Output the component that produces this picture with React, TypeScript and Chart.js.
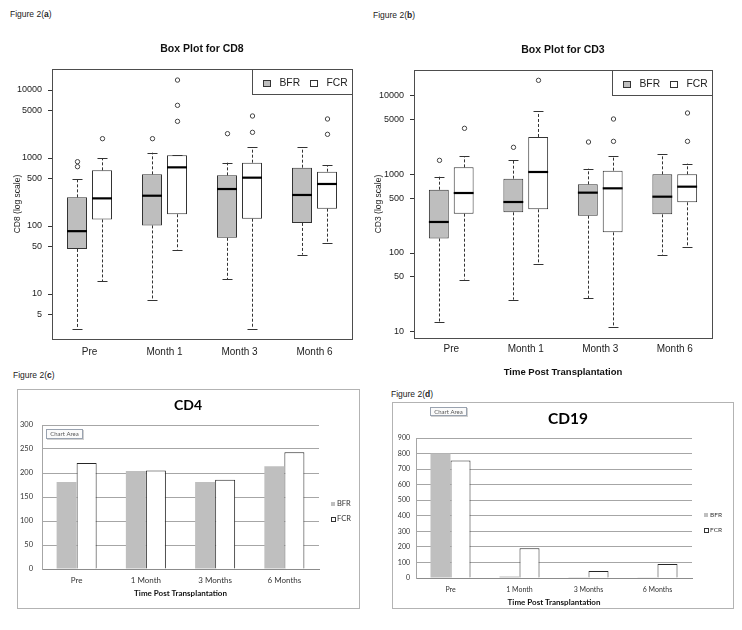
import React, { useEffect, useRef } from 'react';
import { Chart, registerables } from 'chart.js';

Chart.register(...registerables);

// ---------------- data ----------------
const boxGroups = ['Pre', 'Month 1', 'Month 3', 'Month 6'];
const barGroups = ['Pre', '1 Month', '3 Months', '6 Months'];
const seriesLabels = ['BFR', 'FCR'];
const logTicks = [5, 10, 50, 100, 500, 1000, 5000, 10000];

// five-number summaries: [lower whisker, Q1, median, Q3, upper whisker]
const cd8BFR = [[3.1, 46, 84, 264, 485], [8.3, 102, 279, 575, 1197], [16.6, 67, 350, 556, 854], [37.9, 111, 286, 721, 1435]];
const cd8FCR = [[15.4, 125, 255, 659, 989], [45, 149, 729, 1094, 1094], [3.1, 128, 514, 854, 1435], [55.6, 180, 415, 630, 780]];
const cd8BFROutliers = [[746, 883], [1925], [2280], []];
const cd8FCROutliers = [[1925], [3460, 5950, 14000], [2385, 4150], [2230, 3750]];

const cd3BFR = [[13.1, 153, 248, 638, 933], [25.5, 329, 445, 881, 1506], [26.5, 298, 585, 746, 1180], [95, 310, 520, 1000, 1795]];
const cd3FCR = [[46, 316, 579, 1227, 1710], [71.8, 359, 1071, 2985, 6320], [11.4, 183, 664, 1114, 1710], [118, 441, 697, 1000, 1367]];
const cd3BFROutliers = [[1506], [2205], [2576], []];
const cd3FCROutliers = [[3845], [15670], [2626, 5050], [2626, 6020]];

const cd4BFR = [181, 204, 181, 214];
const cd4FCR = [221, 205, 186, 243];
const cd19BFR = [800, 10, 5, 2];
const cd19FCR = [755, 192, 45, 90];

// ---------------- styling helpers ----------------
const ARIAL = '"Liberation Sans", Arial, Helvetica, sans-serif';
const CAL = 'Lato, "Liberation Sans", sans-serif';

const boxPlotPlugin = {
  id: 'boxWhiskers',
  afterDatasetsDraw(chart: any) {
    const ctx = chart.ctx;
    const y = chart.scales.y;
    chart.data.datasets.forEach((ds: any, i: number) => {
      const meta = chart.getDatasetMeta(i);
      meta.data.forEach((el: any, j: number) => {
        const s = ds.stats[j];
        const out = ds.outliers[j] || [];
        const x = Math.round(el.x) + 0.5;
        const half = el.width / 2;
        const p = s.map((v: number) => y.getPixelForValue(v));
        ctx.save();
        ctx.strokeStyle = '#333';
        ctx.lineWidth = 1;
        ctx.setLineDash([3, 2]);
        ctx.beginPath();
        ctx.moveTo(x, p[3]);
        ctx.lineTo(x, p[4]);
        ctx.moveTo(x, p[1]);
        ctx.lineTo(x, p[0]);
        ctx.stroke();
        ctx.setLineDash([]);
        const cap = el.width / 4;
        ctx.beginPath();
        ctx.moveTo(x - cap, Math.round(p[4]) + 0.5);
        ctx.lineTo(x + cap, Math.round(p[4]) + 0.5);
        ctx.moveTo(x - cap, Math.round(p[0]) + 0.5);
        ctx.lineTo(x + cap, Math.round(p[0]) + 0.5);
        ctx.stroke();
        ctx.strokeStyle = '#000';
        ctx.lineWidth = 2.2;
        ctx.beginPath();
        ctx.moveTo(el.x - half, p[2]);
        ctx.lineTo(el.x + half, p[2]);
        ctx.stroke();
        ctx.strokeStyle = '#444';
        ctx.lineWidth = 1;
        out.forEach((v: number) => {
          ctx.beginPath();
          ctx.arc(x, y.getPixelForValue(v), 2.2, 0, Math.PI * 2);
          ctx.stroke();
        });
        ctx.restore();
      });
    });
  },
};

function makeDecor(d: any) {
  return {
    id: 'decor',
    afterDraw(chart: any) {
      const ctx = chart.ctx;
      const a = chart.chartArea;
      ctx.save();
      ctx.lineWidth = 1;
      ctx.setLineDash([]);
      if (d.outerBorder) {
        ctx.strokeStyle = d.outerBorder;
        ctx.strokeRect(0.5, 0.5, chart.width - 1, chart.height - 1);
      }
      if (d.frame) {
        ctx.strokeStyle = d.frame;
        ctx.strokeRect(Math.round(a.left) + 0.5, Math.round(a.top) + 0.5, Math.round(a.right - a.left), Math.round(a.bottom - a.top));
      }
      if (d.title) {
        const t = d.title;
        ctx.fillStyle = t.color || '#111';
        ctx.font = t.font;
        ctx.textAlign = 'center';
        ctx.textBaseline = 'middle';
        ctx.fillText(t.text, t.x !== undefined ? t.x : (a.left + a.right) / 2, t.y);
      }
      if (d.rLegend) {
        const L = d.rLegend;
        const bx = Math.round(a.right - L.width) + 0.5;
        const by = Math.round(a.top) + 0.5;
        ctx.fillStyle = '#fff';
        ctx.fillRect(bx, by, L.width, L.height);
        ctx.strokeStyle = d.frame;
        ctx.strokeRect(bx, by, L.width, L.height);
        chart.data.datasets.forEach((ds: any, i: number) => {
          ctx.fillStyle = ds.backgroundColor;
          ctx.fillRect(bx + L.sq[i], by + 11, 7, 6);
          ctx.strokeStyle = '#333';
          ctx.strokeRect(bx + L.sq[i], by + 11, 7, 6);
          ctx.fillStyle = '#222';
          ctx.font = L.font;
          ctx.textAlign = 'left';
          ctx.textBaseline = 'middle';
          ctx.fillText(ds.label, bx + L.tx[i], by + 14);
        });
      }
      if (d.xlLegend) {
        const L = d.xlLegend;
        chart.data.datasets.forEach((ds: any, i: number) => {
          const yy = L.ys[i];
          ctx.fillStyle = ds.backgroundColor;
          ctx.fillRect(L.x, Math.round(yy - L.size / 2), L.size, L.size);
          if (ds.borderWidth) {
            ctx.strokeStyle = '#333';
            ctx.strokeRect(L.x + 0.5, Math.round(yy - L.size / 2) + 0.5, L.size, L.size);
          }
          ctx.fillStyle = '#333';
          ctx.font = L.font;
          ctx.textAlign = 'left';
          ctx.textBaseline = 'middle';
          ctx.fillText(ds.label, L.x + L.size + 2, yy);
        });
      }
      if (d.tag) {
        const t = d.tag;
        ctx.fillStyle = '#d0d0d0';
        ctx.fillRect(t.x + 1, t.y + 1, t.w, t.h);
        ctx.fillStyle = '#fbfbfb';
        ctx.fillRect(t.x, t.y, t.w, t.h);
        ctx.strokeStyle = '#9aa3b0';
        ctx.strokeRect(t.x + 0.5, t.y + 0.5, t.w - 1, t.h - 1);
        ctx.fillStyle = '#555';
        ctx.font = t.font;
        ctx.textAlign = 'center';
        ctx.textBaseline = 'middle';
        ctx.fillText('Chart Area', t.x + t.w / 2, t.y + t.h / 2 + 0.5);
      }
      ctx.restore();
    },
  };
}

function boxChart(p: any) {
  const mk = (label: string, stats: number[][], outliers: number[][], color: string) => ({
    label,
    data: stats.map((s) => [s[1], s[3]]),
    stats,
    outliers,
    backgroundColor: color,
    borderColor: '#333',
    borderWidth: 1,
    borderSkipped: false,
    categoryPercentage: 0.667,
    barPercentage: 0.8,
  });
  return {
    type: 'bar',
    data: {
      labels: boxGroups,
      datasets: [mk(seriesLabels[0], p.bfr, p.bfrOut, '#bebebe'), mk(seriesLabels[1], p.fcr, p.fcrOut, '#ffffff')],
    },
    options: {
      responsive: false,
      animation: false,
      events: [],
      layout: { padding: { top: p.padTop, right: p.padRight, left: 0, bottom: 0 } },
      plugins: { legend: { display: false }, tooltip: { enabled: false }, title: { display: false } },
      scales: {
        x: {
          type: 'category',
          offset: true,
          grid: { display: false, drawTicks: false },
          border: { display: false },
          ticks: { font: { family: ARIAL, size: 10 }, color: '#222', padding: p.xPad, maxRotation: 0 },
          title: p.xTitle
            ? { display: true, text: p.xTitle, font: { family: ARIAL, size: 9.5, weight: 'bold' }, color: '#111', padding: { top: 0, bottom: p.xTitlePad } }
            : { display: false },
          afterFit: (s: any) => { s.height = p.xHeight; },
        },
        y: {
          type: 'logarithmic',
          min: p.yMin,
          max: p.yMax,
          bounds: 'data',
          afterBuildTicks: (s: any) => {
            s.ticks = logTicks.filter((v) => v >= p.yMin && v <= p.yMax).map((v) => ({ value: v }));
          },
          ticks: { callback: (v: any) => String(v), font: { family: ARIAL, size: 9 }, color: '#222', padding: 6, autoSkip: false, maxRotation: 0 },
          grid: { drawOnChartArea: false, drawTicks: true, tickLength: 4, color: '#333' },
          border: { display: false },
          title: { display: true, text: p.yTitle, font: { family: ARIAL, size: 8.5 }, color: '#222', padding: { top: p.yTitlePad, bottom: 0 } },
          afterFit: (s: any) => { s.width = p.axisWidth; },
        },
      },
    },
    plugins: [
      boxPlotPlugin,
      makeDecor({
        frame: '#4d4d4d',
        title: { text: p.title, y: p.titleY, font: `bold 10.5px ${ARIAL}`, color: '#111' },
        rLegend: { width: 100, height: 25, sq: [11, 58], tx: [27, 74], font: `10.3px ${ARIAL}` },
      }),
    ],
  };
}

function barChart(p: any) {
  return {
    type: 'bar',
    data: {
      labels: barGroups,
      datasets: [
        { label: seriesLabels[0], data: p.bfr, backgroundColor: '#bfbfbf', borderWidth: 0, categoryPercentage: p.cat, barPercentage: 1 },
        { label: seriesLabels[1], data: p.fcr, backgroundColor: '#ffffff', borderColor: '#262626', borderWidth: 1, categoryPercentage: p.cat, barPercentage: 1 },
      ],
    },
    options: {
      responsive: false,
      animation: false,
      events: [],
      layout: { padding: { top: p.padTop, right: p.padRight, left: 0, bottom: 0 } },
      plugins: { legend: { display: false }, tooltip: { enabled: false }, title: { display: false } },
      scales: {
        x: {
          grid: { display: false, drawTicks: false },
          border: { display: true, color: '#8c8c8c', width: 1 },
          ticks: { font: { family: CAL, size: p.xTick }, color: '#333', padding: p.xPad, maxRotation: 0 },
          title: { display: true, text: 'Time Post Transplantation', font: { family: CAL, size: 8, weight: 'bold' }, color: '#111', padding: { top: 0, bottom: p.xTitlePad } },
          afterFit: (s: any) => { s.height = p.xHeight; },
        },
        y: {
          min: 0,
          max: p.yMax,
          ticks: { stepSize: p.step, font: { family: CAL, size: p.yTick }, color: '#333', padding: p.yPad },
          grid: { color: '#a6a6a6', drawTicks: false, lineWidth: 1 },
          border: { display: true, color: '#a6a6a6' },
          afterFit: (s: any) => { s.width = p.yWidth; },
        },
      },
    },
    plugins: [makeDecor(p.decor)],
  };
}

function ChartCanvas({ x, y, w, h, config }: any) {
  const ref = useRef<HTMLCanvasElement>(null);
  useEffect(() => {
    const chart = new Chart(ref.current as HTMLCanvasElement, config as any);
    return () => chart.destroy();
  }, []);
  return <canvas ref={ref} width={w} height={h} style={{ position: 'absolute', left: x, top: y, width: w, height: h }} />;
}

function FigLabel({ x, y, letter }: any) {
  return (
    <div style={{ position: 'absolute', left: x, top: y, fontSize: 8.5, lineHeight: '10px', fontFamily: ARIAL, color: '#222', whiteSpace: 'nowrap' }}>
      Figure 2(<b>{letter}</b>)
    </div>
  );
}

const cfgA = boxChart({
  bfr: cd8BFR, fcr: cd8FCR, bfrOut: cd8BFROutliers, fcrOut: cd8FCROutliers,
  yMin: 2.18, yMax: 20370, yTitle: 'CD8 (log scale)', yTitlePad: 12.9,
  axisWidth: 52, padTop: 69, padRight: 19, xHeight: 31, xPad: 7,
  title: 'Box Plot for CD8', titleY: 49,
});

const cfgB = boxChart({
  bfr: cd3BFR, fcr: cd3FCR, bfrOut: cd3BFROutliers, fcrOut: cd3FCROutliers,
  yMin: 8.31, yMax: 21200, yTitle: 'CD3 (log scale)', yTitlePad: 2.9,
  axisWidth: 43, padTop: 70, padRight: 30, xHeight: 47, xPad: 5,
  xTitle: 'Time Post Transplantation', xTitlePad: 7.3,
  title: 'Box Plot for CD3', titleY: 50,
});

const cfgC = barChart({
  bfr: cd4BFR, fcr: cd4FCR, yMax: 300, step: 50, cat: 0.578,
  yWidth: 25, yPad: 9, padTop: 36, padRight: 41, xHeight: 40, xPad: 6.2, xTitlePad: 11.2,
  xTick: 8, yTick: 7.5,
  decor: {
    outerBorder: '#b3b3b3',
    title: { text: 'CD4', x: 171, y: 16, font: `bold 14px ${CAL}`, color: '#000' },
    xlLegend: { x: 314, ys: [115, 130], font: `7.5px ${CAL}`, size: 4 },
    tag: { x: 29, y: 40, w: 37, h: 10, font: `6px ${CAL}` },
  },
});

const cfgD = barChart({
  bfr: cd19BFR, fcr: cd19FCR, yMax: 900, step: 100, cat: 0.58,
  yWidth: 24, yPad: 6, padTop: 36, padRight: 42, xHeight: 31, xPad: 7.8, xTitlePad: 1.9,
  xTick: 7, yTick: 7,
  decor: {
    outerBorder: '#b3b3b3',
    title: { text: 'CD19', x: 176, y: 17, font: `bold 15.5px ${CAL}`, color: '#000' },
    xlLegend: { x: 312, ys: [113, 127.5], font: `6.5px ${CAL}`, size: 4 },
    tag: { x: 38, y: 5, w: 37, h: 9, font: `6px ${CAL}` },
  },
});

export default function App() {
  return (
    <div style={{ position: 'fixed', left: 0, top: 0, width: 742, height: 630, background: '#fff', overflow: 'hidden' }}>
      <FigLabel x={10} y={9} letter="a" />
      <FigLabel x={373} y={10} letter="b" />
      <FigLabel x={13} y={370} letter="c" />
      <FigLabel x={391} y={389} letter="d" />
      <ChartCanvas x={0} y={0} w={371} h={370} config={cfgA} />
      <ChartCanvas x={371} y={0} w={371} h={385} config={cfgB} />
      <ChartCanvas x={17} y={389} w={343} h={220} config={cfgC} />
      <ChartCanvas x={392} y={402} w={342} h={207} config={cfgD} />
    </div>
  );
}
